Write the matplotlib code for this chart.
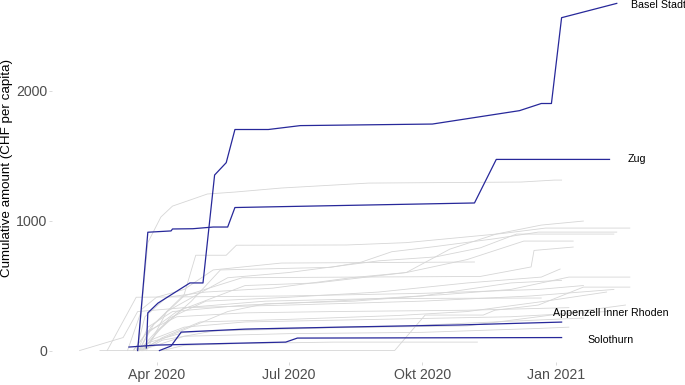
import matplotlib
matplotlib.use("Agg")
import matplotlib.pyplot as plt
import pandas as pd

plt.rcParams['font.family'] = ['Liberation Sans', 'DejaVu Sans']

# highlighted cantons: (date, cumulative CHF per capita)
basel_stadt = [("2020-03-25", 20), ("2020-03-26", 290), ("2020-04-02", 365), ("2020-04-24", 520),
               ("2020-05-03", 520), ("2020-05-11", 1350), ("2020-05-19", 1445), ("2020-05-25", 1700),
               ("2020-06-17", 1700), ("2020-07-09", 1730), ("2020-10-08", 1742), ("2020-12-07", 1845),
               ("2020-12-22", 1900), ("2020-12-29", 1900), ("2021-01-05", 2560), ("2021-02-12", 2670)]
zug = [("2020-03-19", 0), ("2020-03-26", 910), ("2020-04-11", 920), ("2020-04-12", 935),
       ("2020-04-26", 937), ("2020-05-10", 950), ("2020-05-20", 950), ("2020-05-25", 1100),
       ("2020-11-06", 1135), ("2020-11-21", 1470), ("2021-02-07", 1470)]
appenzell_ir = [("2020-04-03", 0), ("2020-04-11", 35), ("2020-04-18", 142), ("2020-06-01", 165),
                ("2020-08-05", 180), ("2020-10-27", 197), ("2021-01-05", 219)]
solothurn = [("2020-03-13", 27), ("2020-04-01", 42), ("2020-05-01", 50), ("2020-06-29", 65),
             ("2020-07-07", 96), ("2021-01-05", 100)]

# other cantons (grey background)
geneve = [("2020-03-19", 0), ("2020-03-26", 830), ("2020-04-04", 1027), ("2020-04-12", 1111),
          ("2020-04-26", 1165), ("2020-05-06", 1204), ("2020-05-25", 1219), ("2020-06-26", 1250),
          ("2020-08-25", 1288), ("2020-12-08", 1296), ("2020-12-31", 1311), ("2021-01-05", 1311)]
ticino = [("2020-03-18", 0), ("2020-03-24", 260), ("2020-04-08", 410), ("2020-05-05", 450),
          ("2020-06-20", 480), ("2020-08-13", 560), ("2020-09-20", 600), ("2020-10-20", 780),
          ("2020-11-21", 896), ("2020-12-22", 965), ("2021-01-20", 996)]
vaud = [("2020-03-20", 0), ("2020-03-28", 180), ("2020-04-20", 430), ("2020-04-28", 733),
        ("2020-05-19", 733), ("2020-05-26", 810), ("2020-08-10", 812), ("2020-09-20", 830),
        ("2020-11-25", 900), ("2020-12-25", 942), ("2021-02-21", 942)]
jura = [("2020-03-22", 0), ("2020-04-02", 150), ("2020-04-25", 380), ("2020-05-15", 620),
        ("2020-07-30", 640), ("2020-08-20", 680), ("2020-09-10", 760), ("2020-10-10", 800),
        ("2020-11-20", 860), ("2020-12-20", 911), ("2021-02-12", 911)]
neuchatel = [("2020-03-25", 0), ("2020-04-08", 300), ("2020-05-20", 560), ("2020-07-01", 600),
             ("2020-09-01", 690), ("2020-10-10", 720), ("2020-11-10", 790), ("2020-12-05", 896),
             ("2021-02-10", 896)]
basel_land = [("2020-03-16", 0), ("2020-03-24", 120), ("2020-04-15", 300), ("2020-06-01", 500),
              ("2020-07-20", 520), ("2020-09-20", 600), ("2020-11-01", 700), ("2020-12-10", 842),
              ("2021-01-13", 842)]
fribourg = [("2020-03-20", 0), ("2020-03-30", 200), ("2020-04-20", 420), ("2020-05-30", 560),
            ("2020-08-13", 565), ("2020-11-10", 570), ("2020-12-15", 643), ("2020-12-17", 770),
            ("2021-01-13", 796)]
uri = [("2020-03-12", 0), ("2020-03-22", 320), ("2020-04-01", 410), ("2020-04-20", 470),
       ("2020-05-10", 620), ("2020-06-26", 673), ("2020-11-06", 681)]
schaffhausen = [("2020-03-22", 0), ("2020-04-10", 250), ("2020-05-05", 380), ("2020-07-01", 410),
                ("2020-09-01", 450), ("2020-11-01", 520), ("2020-12-22", 565), ("2021-01-04", 627)]
graubuenden = [("2020-03-19", 0), ("2020-03-26", 180), ("2020-04-12", 300), ("2020-06-01", 350),
               ("2020-08-01", 380), ("2020-10-15", 430), ("2020-12-01", 470), ("2021-01-10", 565),
               ("2021-02-21", 565)]
schwyz = [("2020-02-22", 0), ("2020-09-12", 0), ("2020-10-03", 273), ("2020-11-12", 273),
          ("2020-11-20", 310), ("2020-12-20", 350), ("2021-01-20", 488), ("2021-02-21", 488)]
nidwalden = [("2020-03-20", 0), ("2020-04-01", 150), ("2020-04-20", 330), ("2020-06-15", 380),
             ("2020-09-01", 400), ("2020-12-22", 404)]
obwalden = [("2020-03-22", 0), ("2020-04-05", 100), ("2020-05-01", 220), ("2020-07-01", 240),
            ("2020-09-15", 270), ("2020-11-01", 300), ("2020-12-25", 380), ("2021-02-05", 450)]
glarus = [("2020-03-16", 0), ("2020-03-26", 150), ("2020-04-15", 260), ("2020-06-01", 290),
          ("2020-08-01", 300), ("2020-11-01", 310), ("2021-01-10", 330)]
luzern = [("2020-03-20", 0), ("2020-03-30", 90), ("2020-04-20", 180), ("2020-06-01", 220),
          ("2020-09-01", 240), ("2020-12-01", 260), ("2021-02-05", 300)]
bern = [("2020-03-18", 0), ("2020-03-26", 60), ("2020-04-20", 140), ("2020-06-15", 170),
        ("2020-09-20", 190), ("2020-12-10", 230), ("2021-01-20", 250)]
zuerich = [("2020-03-23", 0), ("2020-04-05", 80), ("2020-05-10", 150), ("2020-08-01", 175),
           ("2020-11-01", 190), ("2020-12-20", 260), ("2021-02-18", 350)]
aargau = [("2020-03-20", 0), ("2020-04-01", 40), ("2020-04-20", 110), ("2020-07-01", 130),
          ("2020-10-01", 140), ("2020-12-20", 170), ("2021-01-10", 180)]
st_gallen = [("2020-02-08", 0), ("2020-03-09", 100), ("2020-03-19", 300), ("2020-04-20", 330),
             ("2020-07-01", 350), ("2020-10-01", 380), ("2020-12-15", 420), ("2021-02-10", 470)]
thurgau = [("2020-02-27", 0), ("2020-03-18", 410), ("2020-07-01", 420), ("2020-10-01", 440),
           ("2020-12-20", 470), ("2021-01-20", 500)]
appenzell_ar = [("2020-04-05", 0), ("2020-04-20", 40), ("2020-06-01", 55), ("2020-08-01", 65),
                ("2020-11-08", 65)]
valais = [("2020-03-20", 0), ("2020-04-05", 90), ("2020-05-20", 300), ("2020-06-15", 360),
          ("2020-08-15", 380), ("2020-10-01", 420), ("2020-12-01", 520), ("2021-01-05", 540)]

grey_cantons = [geneve, ticino, vaud, jura, neuchatel, basel_land, fribourg, uri, schaffhausen,
                graubuenden, schwyz, nidwalden, obwalden, glarus, luzern, bern, zuerich, aargau,
                st_gallen, thurgau, appenzell_ar, valais]
highlight_names = ["Basel Stadt", "Zug", "Appenzell Inner Rhoden", "Solothurn"]
highlight_cantons = [basel_stadt, zug, appenzell_ir, solothurn]

x_tick_dates = ["2020-04-01", "2020-07-01", "2020-10-01", "2021-01-01"]
x_tick_labels = ["Apr 2020", "Jul 2020", "Okt 2020", "Jan 2021"]
y_ticks = [0, 1000, 2000]


def unpack(series):
    return pd.to_datetime([p[0] for p in series]), [p[1] for p in series]


fig = plt.figure(figsize=(6.85, 3.85), dpi=100)
ax = fig.add_axes([52 / 685, 23 / 385, 633 / 685, 362 / 385])

for series in grey_cantons:
    d, v = unpack(series)
    ax.plot(d, v, color="#d6d6d6", lw=0.6, zorder=1)

# label offsets in points relative to the last point of each line
label_offsets = {"Basel Stadt": (10, -3.6), "Zug": (13, -2.2),
                 "Appenzell Inner Rhoden": (-6.5, 4.3), "Solothurn": (18.7, -3.6)}
for name, series in zip(highlight_names, highlight_cantons):
    d, v = unpack(series)
    ax.plot(d, v, color="#27289a", lw=0.9, zorder=3)
    ax.annotate(name, xy=(d[-1], v[-1]), xytext=label_offsets[name], textcoords="offset points",
                ha="left", va="baseline", fontsize=7.7, color="black", annotation_clip=False)

ax.set_xlim(pd.Timestamp("2020-01-20"), pd.Timestamp("2021-03-31"))
ax.set_ylim(-88, 2696)
ax.set_xticks(pd.to_datetime(x_tick_dates))
ax.set_xticklabels(x_tick_labels)
ax.set_yticks(y_ticks)
ax.set_yticklabels([str(t) for t in y_ticks])
for s in ax.spines.values():
    s.set_visible(False)
ax.tick_params(axis="both", length=2, width=0.5, color="#cccccc", labelsize=10.2, labelcolor="#4d4d4d")
ax.tick_params(axis="x", pad=2.6)
ax.tick_params(axis="y", pad=1.6)
ax.set_ylabel("Cumulative amount (CHF per capita)", fontsize=9.6, color="black")
ax.yaxis.set_label_coords(-0.062, 0.536)

fig.savefig("out.png", dpi=100)
